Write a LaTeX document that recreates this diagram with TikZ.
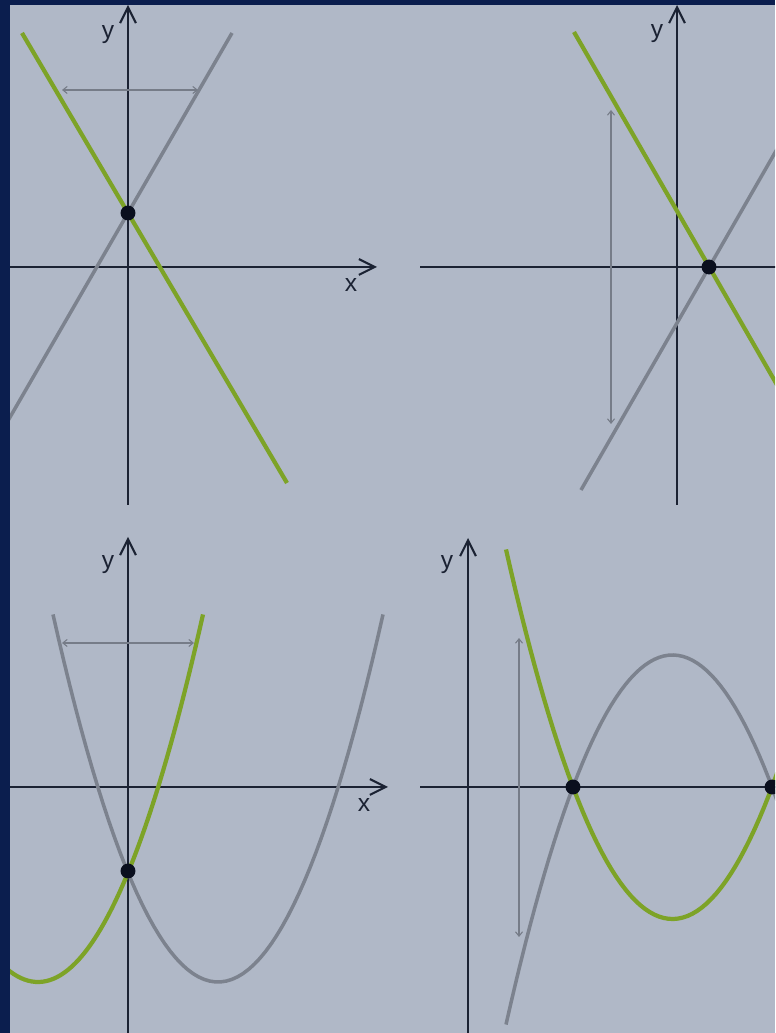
\documentclass[tikz,border=0pt]{standalone}
\usepackage{fontspec}
\setmainfont{Liberation Sans}
\usetikzlibrary{arrows.meta}
\definecolor{bgGray}{HTML}{B0B8C7}
\definecolor{frameNavy}{HTML}{0B1E4E}
\definecolor{fnGreen}{HTML}{7DA327}
\definecolor{fnGray}{HTML}{7C828E}
\definecolor{axisDark}{HTML}{1B2233}
\definecolor{dotDark}{HTML}{0A0F1E}
\definecolor{guideGray}{HTML}{767C88}
\tikzset{
  axis/.style={axisDark,line width=1.5pt,-{Straight Barb[length=9pt,width=9pt,line width=1.2pt]}},
  greencurve/.style={fnGreen,line width=2.4pt},
  graycurve/.style={fnGray,line width=2pt},
  guide/.style={guideGray,line width=0.6pt,{Straight Barb[length=2.5pt,width=4pt]}-{Straight Barb[length=2.5pt,width=4pt]}},
  root/.style={circle,fill=dotDark,inner sep=0pt,minimum size=8.5pt},
  axlabel/.style={text=axisDark,font=\fontsize{14}{16}\selectfont,inner sep=0pt}
}

\begin{document}
\begin{tikzpicture}[x=0.02cm,y=0.02cm]
  \useasboundingbox (0,0) rectangle (775,1033);
  \clip (0,0) rectangle (775,1033);
  \fill[bgGray] (0,0) rectangle (775,1033);

  \begin{scope}[shift={(128,766)}]
    \coordinate (xa1) at (-130,0); \coordinate (xb1) at (249,0);
    \coordinate (ya1) at (0,-238); \coordinate (yb1) at (0,262);
    \draw[axis] (xa1) -- (xb1);
    \draw[axis] (ya1) -- (yb1);
    \draw[graycurve] (-130,-171) -- (104,234);
    \draw[greencurve] (-106,234) -- (159,-216);
    \coordinate (gl1) at (-66,177); \coordinate (gr1) at (70,177);
    \draw[guide] (gl1) -- (gr1);
    \node[root] (cut1) at (0,54) {};
    \node[axlabel] (ylab1) at (-20,232) {y};
    \node[axlabel] (xlab1) at (223,-18) {x};
  \end{scope}

  \begin{scope}[shift={(677,766)}]
    \coordinate (xa2) at (-257,0); \coordinate (xb2) at (130,0);
    \coordinate (ya2) at (0,-238); \coordinate (yb2) at (0,262);
    \draw[axisDark,line width=1.5pt] (xa2) -- (xb2);
    \draw[axis] (ya2) -- (yb2);
    \draw[graycurve] (-96,-223) -- (130,170);
    \draw[greencurve] (-103,235) -- (130,-170);
    \coordinate (gl2) at (-66,157); \coordinate (gr2) at (-66,-157);
    \draw[guide] (gl2) -- (gr2);
    \node[root] (cut2) at (32,0) {};
    \node[axlabel] (ylab2) at (-20,233) {y};
  \end{scope}

  \begin{scope}[shift={(128,246)}]
    \coordinate (xa3) at (-130,0); \coordinate (xb3) at (260,0);
    \coordinate (ya3) at (0,-260); \coordinate (yb3) at (0,250);
    \draw[axis] (xa3) -- (xb3);
    \draw[axis] (ya3) -- (yb3);
    \draw[graycurve] plot[domain=-75:255,samples=60] (\x,{-195+1.35*((\x-90)/10)^2});
    \draw[greencurve] plot[domain=-140:75,samples=60] (\x,{-195+1.35*((\x+90)/10)^2});
    \coordinate (gl3) at (-66,144); \coordinate (gr3) at (66,144);
    \draw[guide] (gl3) -- (gr3);
    \node[root] (cut3) at (0,-84) {};
    \node[axlabel] (ylab3) at (-20,222) {y};
    \node[axlabel] (xlab3) at (236,-18) {x};
  \end{scope}

  \begin{scope}[shift={(468,246)}]
    \coordinate (xa4) at (-48,0); \coordinate (xb4) at (330,0);
    \coordinate (ya4) at (0,-260); \coordinate (yb4) at (0,249);
    \draw[axisDark,line width=1.5pt] (xa4) -- (xb4);
    \draw[axis] (ya4) -- (yb4);
    \draw[graycurve] plot[domain=38:320,samples=60] (\x,{132-1.333*((\x-204.5)/10)^2});
    \draw[greencurve] plot[domain=38:320,samples=60] (\x,{-132+1.333*((\x-204.5)/10)^2});
    \coordinate (gl4) at (51,149); \coordinate (gr4) at (51,-150);
    \draw[guide] (gl4) -- (gr4);
    \node[root] (cut4a) at (105,0) {};
    \node[root] (cut4b) at (304,0) {};
    \node[axlabel] (ylab4) at (-21,222) {y};
  \end{scope}

  \fill[frameNavy] (0,0) rectangle (10,1033);
  \fill[frameNavy] (0,1028) rectangle (775,1033);
\end{tikzpicture}
\end{document}
